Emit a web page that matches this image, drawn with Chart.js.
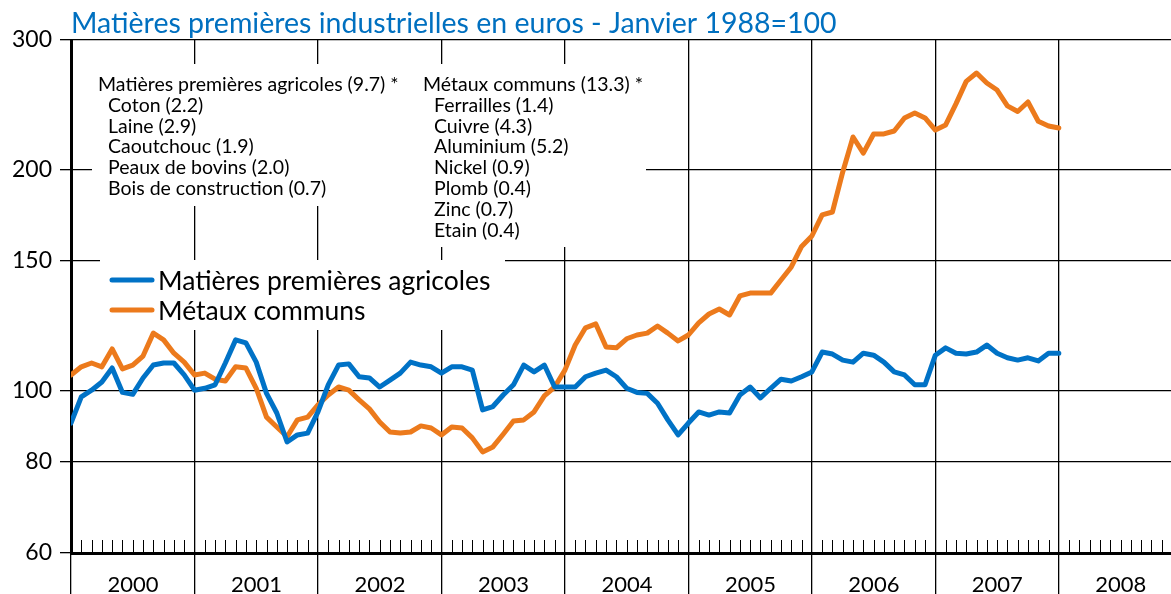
<!DOCTYPE html>
<html>
<head>
<meta charset="utf-8">
<script src="https://cdn.jsdelivr.net/npm/chart.js@4.4.1/dist/chart.umd.min.js"></script>
<style>
  html, body { margin: 0; padding: 0; background: #fff; }
  #wrap { width: 1171px; height: 594px; position: relative; }
</style>
</head>
<body>
<div id="wrap"><canvas id="chart"></canvas></div>
<script>
// months from Jan 2000 (index 0) to Jan 2008 (index 96)
var years = ['2000', '2001', '2002', '2003', '2004', '2005', '2006', '2007', '2008'];
var yTicks = [60, 80, 100, 150, 200, 300];
var seriesNames = ['Matières premières agricoles', 'Métaux communs'];

var agricoles = [
  90.2, 97.9, 100.0, 102.6, 107.2, 99.3, 98.7, 103.9, 108.2, 108.9, 108.9, 104.9,
  100.0, 100.6, 101.7, 108.9, 117.1, 116.0, 109.2, 99.0, 93.1, 85.0, 86.9, 87.4,
  93.4, 101.7, 108.2, 108.6, 104.3, 103.9, 101.0, 103.2, 105.5, 109.2, 108.2, 107.6,
  105.5, 107.6, 107.6, 106.5, 94.0, 95.0, 98.5, 101.7, 108.2, 105.9, 108.2, 101.0,
  101.0, 101.0, 104.3, 105.5, 106.5, 104.3, 100.6, 99.3, 99.0, 96.0, 91.1, 86.9,
  90.2, 93.4, 92.5, 93.4, 93.1, 98.5, 101.0, 97.6, 100.6, 103.5, 102.9, 104.3,
  105.9, 112.7, 112.0, 109.9, 109.2, 112.3, 111.6, 109.2, 105.9, 104.9, 101.7, 101.7,
  111.6, 114.2, 112.3, 112.0, 112.7, 115.2, 112.3, 110.7, 109.9, 110.7, 109.6, 112.3,
  112.3
];

var metaux = [
  104.9, 107.6, 108.9, 107.6, 113.8, 106.9, 108.2, 111.3, 119.6, 117.1, 112.3, 109.2,
  104.9, 105.5, 103.5, 102.9, 107.6, 107.2, 100.6, 91.9, 89.1, 86.4, 91.1, 91.9,
  95.5, 98.5, 101.0, 100.0, 97.0, 94.3, 90.5, 87.7, 87.4, 87.7, 89.4, 88.8,
  86.9, 89.1, 88.8, 86.1, 82.4, 83.7, 87.1, 90.8, 91.1, 93.4, 98.2, 101.0,
  106.5, 115.2, 121.6, 123.1, 114.5, 114.2, 117.5, 118.9, 119.6, 122.3, 119.6, 116.7,
  118.9, 123.5, 127.0, 129.0, 126.6, 134.4, 135.6, 135.6, 135.6, 141.3, 147.2, 157.0,
  162.2, 173.3, 174.9, 198.3, 221.3, 210.4, 223.4, 223.4, 225.5, 234.9, 238.6, 234.9,
  226.2, 229.8, 245.5, 263.5, 270.5, 262.1, 256.4, 244.0, 239.7, 247.0, 232.5, 229.1,
  227.6
];

var noteAgri = ['Matières premières agricoles (9.7) *', 'Coton (2.2)', 'Laine (2.9)',
  'Caoutchouc (1.9)', 'Peaux de bovins (2.0)', 'Bois de construction (0.7)'];
var noteMetaux = ['Métaux communs (13.3) *', 'Ferrailles (1.4)', 'Cuivre (4.3)',
  'Aluminium (5.2)', 'Nickel (0.9)', 'Plomb (0.4)', 'Zinc (0.7)', 'Etain (0.4)'];

var FONT = 'Lato, "Noto Sans", sans-serif';
var BLUE = '#0072C6';
var ORANGE = '#EC7A1C';

function toPoints(arr) {
  return arr.map(function(v, i) { return {x: i, y: v}; });
}

// white boxes, notes, legend and monthly ticks
var decor = {
  id: 'decor',
  beforeDatasetsDraw: function(chart) {
    var ctx = chart.ctx;
    var xs = chart.scales.x;
    var area = chart.chartArea;
    ctx.save();

    // monthly ticks on the bottom axis
    ctx.strokeStyle = '#000';
    ctx.lineWidth = 1;
    for (var m = 1; m <= xs.max; m++) {
      if (m % 12 === 0) continue;
      var px = Math.round(xs.getPixelForValue(m)) + 0.5;
      ctx.beginPath();
      ctx.moveTo(px, area.bottom);
      ctx.lineTo(px, area.bottom - 13);
      ctx.stroke();
    }

    // boxes behind the texts
    ctx.fillStyle = '#fff';
    ctx.fillRect(92, 64, 330, 142);
    ctx.fillRect(420, 64, 226, 183);
    ctx.fillRect(100, 260, 405, 70);

    // composition notes
    ctx.fillStyle = '#000';
    ctx.font = '19.5px ' + FONT;
    ctx.textBaseline = 'alphabetic';
    ctx.textAlign = 'left';
    noteAgri.forEach(function(t, i) {
      ctx.fillText(t, i === 0 ? 98 : 108, 91 + i * 20.8);
    });
    noteMetaux.forEach(function(t, i) {
      ctx.fillText(t, i === 0 ? 423 : 434, 91 + i * 20.8);
    });

    // legend
    ctx.font = '26.5px ' + FONT;
    ctx.textBaseline = 'middle';
    chart.data.datasets.forEach(function(ds, i) {
      var ly = 280 + i * 30;
      ctx.strokeStyle = ds.borderColor;
      ctx.lineWidth = 5;
      ctx.lineCap = 'round';
      ctx.beginPath();
      ctx.moveTo(112, ly);
      ctx.lineTo(152, ly);
      ctx.stroke();
      ctx.fillStyle = '#000';
      ctx.fillText(ds.label, 158, ly + 1);
    });
    ctx.restore();
  }
};

var ctx = document.getElementById('chart').getContext('2d');
var myChart = new Chart(ctx, {
  type: 'line',
  data: {
    datasets: [{
      label: seriesNames[0],
      data: toPoints(agricoles),
      borderColor: BLUE,
      borderWidth: 5,
      pointRadius: 0,
      borderJoinStyle: 'round',
      borderCapStyle: 'round'
    }, {
      label: seriesNames[1],
      data: toPoints(metaux),
      borderColor: ORANGE,
      borderWidth: 5,
      pointRadius: 0,
      borderJoinStyle: 'round',
      borderCapStyle: 'round'
    }]
  },
  options: {
    responsive: true,
    maintainAspectRatio: false,
    animation: false,
    layout: { padding: 0 },
    plugins: {
      legend: { display: false },
      tooltip: { enabled: false },
      title: {
        display: true,
        text: 'Matières premières industrielles en euros - Janvier 1988=100',
        color: '#0070C0',
        align: 'start',
        fullSize: false,
        font: { family: FONT, size: 28.5, weight: 'normal', lineHeight: 1.0 },
        padding: { top: 10, bottom: 1.5 }
      }
    },
    scales: {
      x: {
        type: 'linear',
        position: 'bottom',
        min: 0,
        max: 106.9,
        afterBuildTicks: function(s) {
          s.ticks = years.map(function(y, i) { return {value: i * 12}; });
        },
        afterFit: function(s) { s.height = 41; },
        ticks: {
          callback: function(v, i) { return years[i]; },
          labelOffset: 62,
          padding: -22,
          autoSkip: false,
          maxRotation: 0,
          color: '#000',
          font: { family: FONT, size: 22 }
        },
        grid: {
          color: '#000',
          lineWidth: 1.3,
          tickLength: 41,
          drawTicks: true
        },
        border: { display: true, color: '#000', width: 3 }
      },
      y: {
        type: 'logarithmic',
        position: 'left',
        min: 60,
        max: 300,
        afterBuildTicks: function(s) {
          s.ticks = yTicks.map(function(v) { return {value: v}; });
        },
        afterFit: function(s) { s.width = 71; },
        ticks: {
          callback: function(v) { return String(v); },
          padding: 8,
          color: '#000',
          font: { family: FONT, size: 23 }
        },
        grid: {
          color: '#000',
          lineWidth: 1.3,
          tickLength: 11
        },
        border: { display: true, color: '#000', width: 3 }
      }
    }
  },
  plugins: [decor]
});
</script>
</body>
</html>
